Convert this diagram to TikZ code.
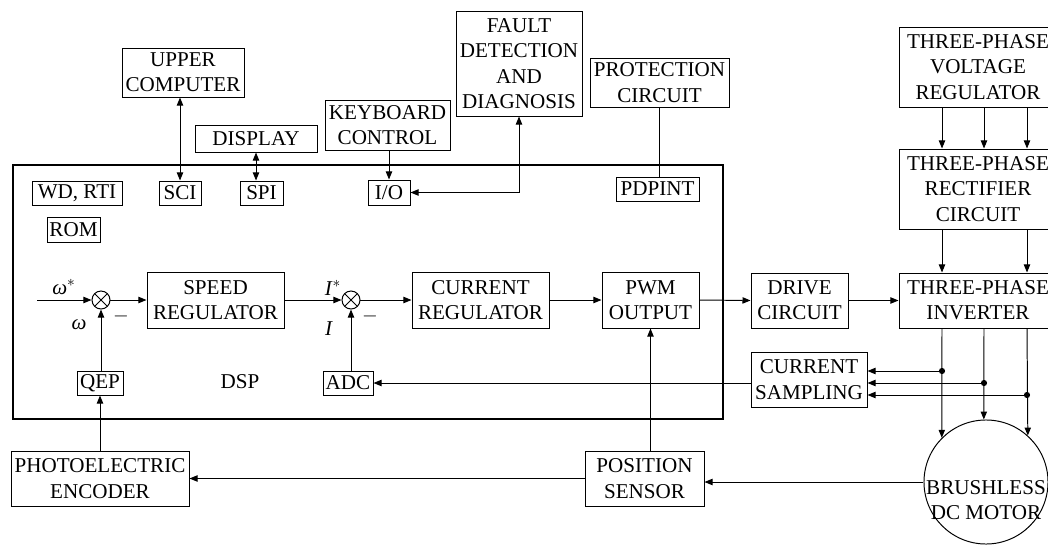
\documentclass[tikz,border=0pt]{standalone}
\usepackage{fontspec}
\setmainfont{Liberation Serif}
\usetikzlibrary{arrows.meta}

\begin{document}
\begin{tikzpicture}[x=0.025cm,y=-0.025cm,
  font=\fontsize{15}{18}\selectfont,
  line width=0.7pt,
  sz/.style 2 args={minimum width=#1*0.025cm,minimum height=#2*0.025cm},
  blk/.style={draw,inner sep=0pt,align=center},
  sum/.style={draw,circle,inner sep=0pt,minimum size=0.45cm,
    path picture={\draw (path picture bounding box.north west)--(path picture bounding box.south east)
      (path picture bounding box.north east)--(path picture bounding box.south west);}},
  tip/.style={-{Triangle[length=5.7pt,width=4.5pt]}},
  tips/.style={{Triangle[length=5.7pt,width=4.5pt]}-{Triangle[length=5.7pt,width=4.5pt]}}]
\useasboundingbox (0,0) rectangle (1048,546);

% DSP board
\node[draw,line width=1.2pt,sz={710}{254}] (dsp) at (368,292) {};
\node (dsplbl) at (240,382) {DSP};

% outside blocks, top
\node[blk,sz={122}{49}] (upper) at (183,72.5) {UPPER\\COMPUTER};
\node[blk,sz={122}{27}] (display) at (256,138.5) {DISPLAY};
\node[blk,sz={125}{50}] (keyboard) at (387.5,125) {KEYBOARD\\CONTROL};
\node[blk,sz={126}{105}] (fault) at (519,63.5) {FAULT\\DETECTION\\AND\\DIAGNOSIS};
\node[blk,sz={139}{49}] (protect) at (659.5,82.5) {PROTECTION\\CIRCUIT};
\node[blk,sz={158}{80}] (voltage) at (978,67) {THREE-PHASE\\VOLTAGE\\REGULATOR};
\node[blk,sz={158}{80}] (rectifier) at (978,189) {THREE-PHASE\\RECTIFIER\\CIRCUIT};
\node[blk,sz={158}{55}] (inverter) at (978,300.5) {THREE-PHASE\\INVERTER};
\node[blk,sz={97}{55}] (drive) at (799.5,300.5) {DRIVE\\CIRCUIT};
\node[blk,sz={116}{55}] (sampling) at (809,379.5) {CURRENT\\SAMPLING};

% peripherals on the DSP
\node[blk,sz={90}{24}] (wdrti) at (77,193) {WD, RTI};
\node[blk,sz={42}{24}] (sci) at (180,193) {SCI};
\node[blk,sz={43}{24}] (spi) at (261.5,193) {SPI};
\node[blk,sz={53}{25}] (rom) at (73.5,229.5) {ROM};
\node[blk,sz={42}{25}] (io) at (389,192.5) {I/O};
\node[blk,sz={83}{24}] (pdpint) at (657.5,189) {PDPINT};
\node[blk,sz={46}{24}] (qep) at (100,383) {QEP};
\node[blk,sz={50}{24}] (adc) at (348,383) {ADC};

% control loop
\coordinate (wref) at (37,300);
\node[sum] (sum1) at (101,300) {};
\node[blk,sz={137}{56}] (speed) at (215.5,300) {SPEED\\REGULATOR};
\node[sum] (sum2) at (351,300) {};
\node[blk,sz={137}{56}] (current) at (480.5,300) {CURRENT\\REGULATOR};
\node[blk,sz={97}{56}] (pwm) at (650.5,300) {PWM\\OUTPUT};
\node (wstar) at (64,287) {\textit{ω}$^{*}$};
\node (wact) at (79,325) {\textit{ω}};
\node (minus1) at (121,316) {$-$};
\node (istar) at (333,288) {\textit{I}$^{*}$};
\node (iact) at (329,329) {\textit{I}};
\node (minus2) at (370,316) {$-$};

% bottom
\node[blk,sz={178}{55}] (encoder) at (100,478.5) {PHOTOELECTRIC\\ENCODER};
\node[blk,sz={119}{55}] (position) at (644.5,478.5) {POSITION\\SENSOR};
\node[draw,circle,inner sep=0pt,minimum size=3.1cm] (motor) at (986,482) {};
\node[align=center] (motorlbl) at (986,500) {BRUSHLESS\\DC MOTOR};

% links to the outside
\draw[tips] (sci.north |- upper.south) -- (sci.north);
\draw[tips] (display.south) -- (display.south |- spi.north);
\draw[tip] (io.north |- keyboard.south) -- (io.north);
\draw[tips] (io.east) -| (fault.south);
\draw (protect.south) -- (protect.south |- pdpint.north);

% loop
\draw[tip] (wref) -- (sum1.west);
\draw[tip] (sum1.east) -- (speed.west);
\draw[tip] (speed.east) -- (sum2.west);
\draw[tip] (sum2.east) -- (current.west);
\draw[tip] (current.east) -- (pwm.west);
\draw[tip] (pwm.east) -- (drive.west);
\draw[tip] (drive.east) -- (inverter.west);
\draw[tip] (sum1.south |- qep.north) -- (sum1.south);
\draw[tip] (sum2.south |- adc.north) -- (sum2.south);
\draw[tip] (adc.east -| sampling.west) -- (adc.east);

% power stage
\foreach \x in {942,984,1027}
  \draw[tip] (voltage.south -| \x,0) -- (rectifier.north -| \x,0);
\foreach \x in {942,1027}
  \draw[tip] (rectifier.south -| \x,0) -- (inverter.north -| \x,0);
\draw[tip] (inverter.south -| 942,0) -- (motor.135);
\draw[tip] (inverter.south -| 984,0) -- (motor.92);
\draw[tip] (inverter.south -| 1027,0) -- (motor.48);
\coordinate (tap1) at (942,371);
\coordinate (tap2) at (984,383);
\coordinate (tap3) at (1027,395);
\foreach \t in {tap1,tap2,tap3}
  {\fill (\t) circle (2.2pt);
   \draw[tip] (\t) -- (\t -| sampling.east);}

% feedback
\draw[tip] (motor.west) -- (motor.west -| position.east);
\draw[tip] (position.west) -- (encoder.east);
\draw[tip] (encoder.north) -- (qep.south);
\draw[tip] (pwm.south |- position.north) -- (pwm.south);
\end{tikzpicture}
\end{document}
